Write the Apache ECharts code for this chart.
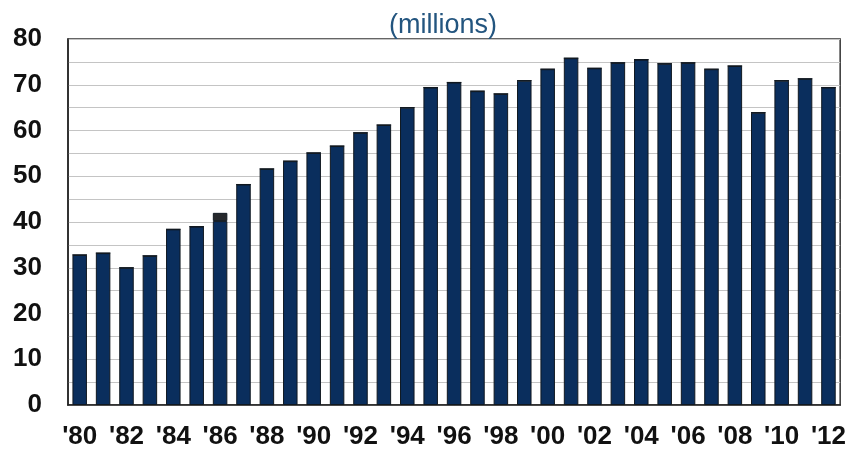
<!DOCTYPE html>
<html>
<head>
<meta charset="utf-8">
<script src="https://cdn.jsdelivr.net/npm/echarts@6/dist/echarts.min.js"></script>
<style>html,body{margin:0;padding:0;background:#fff;}#c{width:849px;height:452px;}</style>
</head>
<body>
<div id="c"></div>
<script>
const years = ['1980','1981','1982','1983','1984','1985','1986','1987','1988','1989','1990','1991','1992','1993','1994','1995','1996','1997','1998','1999','2000','2001','2002','2003','2004','2005','2006','2007','2008','2009','2010','2011','2012'];
const values = [32.8,33.2,30.0,32.6,38.4,39.0,40.2,48.2,51.6,53.3,55.1,56.6,59.5,61.2,65.0,69.4,70.5,68.6,68.0,70.9,73.4,75.8,73.6,74.8,75.5,74.6,74.8,73.4,74.1,63.9,70.9,71.3,69.4];
const extra = [0,0,0,0,0,0,1.8,0,0,0,0,0,0,0,0,0,0,0,0,0,0,0,0,0,0,0,0,0,0,0,0,0,0];
const yTicks = [0,10,20,30,40,50,60,70,80];

const chart = echarts.init(document.getElementById('c'), null, {renderer:'canvas'});
const font = '"Liberation Sans", Arial, sans-serif';
chart.setOption({
  animation:false,
  backgroundColor:'#fff',
  title:{text:'(millions)', left:438, top:7, textAlign:'center',
    textStyle:{fontFamily:font, fontSize:27, fontWeight:'normal', color:'#23557f'}},
  grid:{left:68, right:8, top:39, bottom:47, show:true, borderColor:'#333', borderWidth:1.5, backgroundColor:'transparent'},
  xAxis:{type:'category', data:years,
    axisLine:{lineStyle:{color:'#222', width:1.5}},
    axisTick:{show:false},
    axisLabel:{interval:1, margin:19, fontFamily:font, fontSize:26, fontWeight:'bold', color:'#111',
      formatter:v=>"'"+v.slice(2)}},
  yAxis:{type:'value', min:0, max:80, interval:5,
    axisLine:{show:true, lineStyle:{color:'#222', width:1.5}},
    axisTick:{show:false},
    splitLine:{lineStyle:{color:'#c4c4c4', width:1}},
    axisLabel:{margin:26, fontFamily:font, fontSize:26, fontWeight:'bold', color:'#111',
      formatter:v=>yTicks.includes(v)?String(v):''}},
  series:[
    {type:'bar', stack:'a', data:values, barWidth:'62%',
      itemStyle:{color:'#0a2e5d', borderColor:'#101820', borderWidth:1}},
    {type:'bar', stack:'a', data:extra, barWidth:'62%',
      itemStyle:{color:'#26282c', borderColor:'#101820', borderWidth:1}}
  ]
});
</script>
</body>
</html>
